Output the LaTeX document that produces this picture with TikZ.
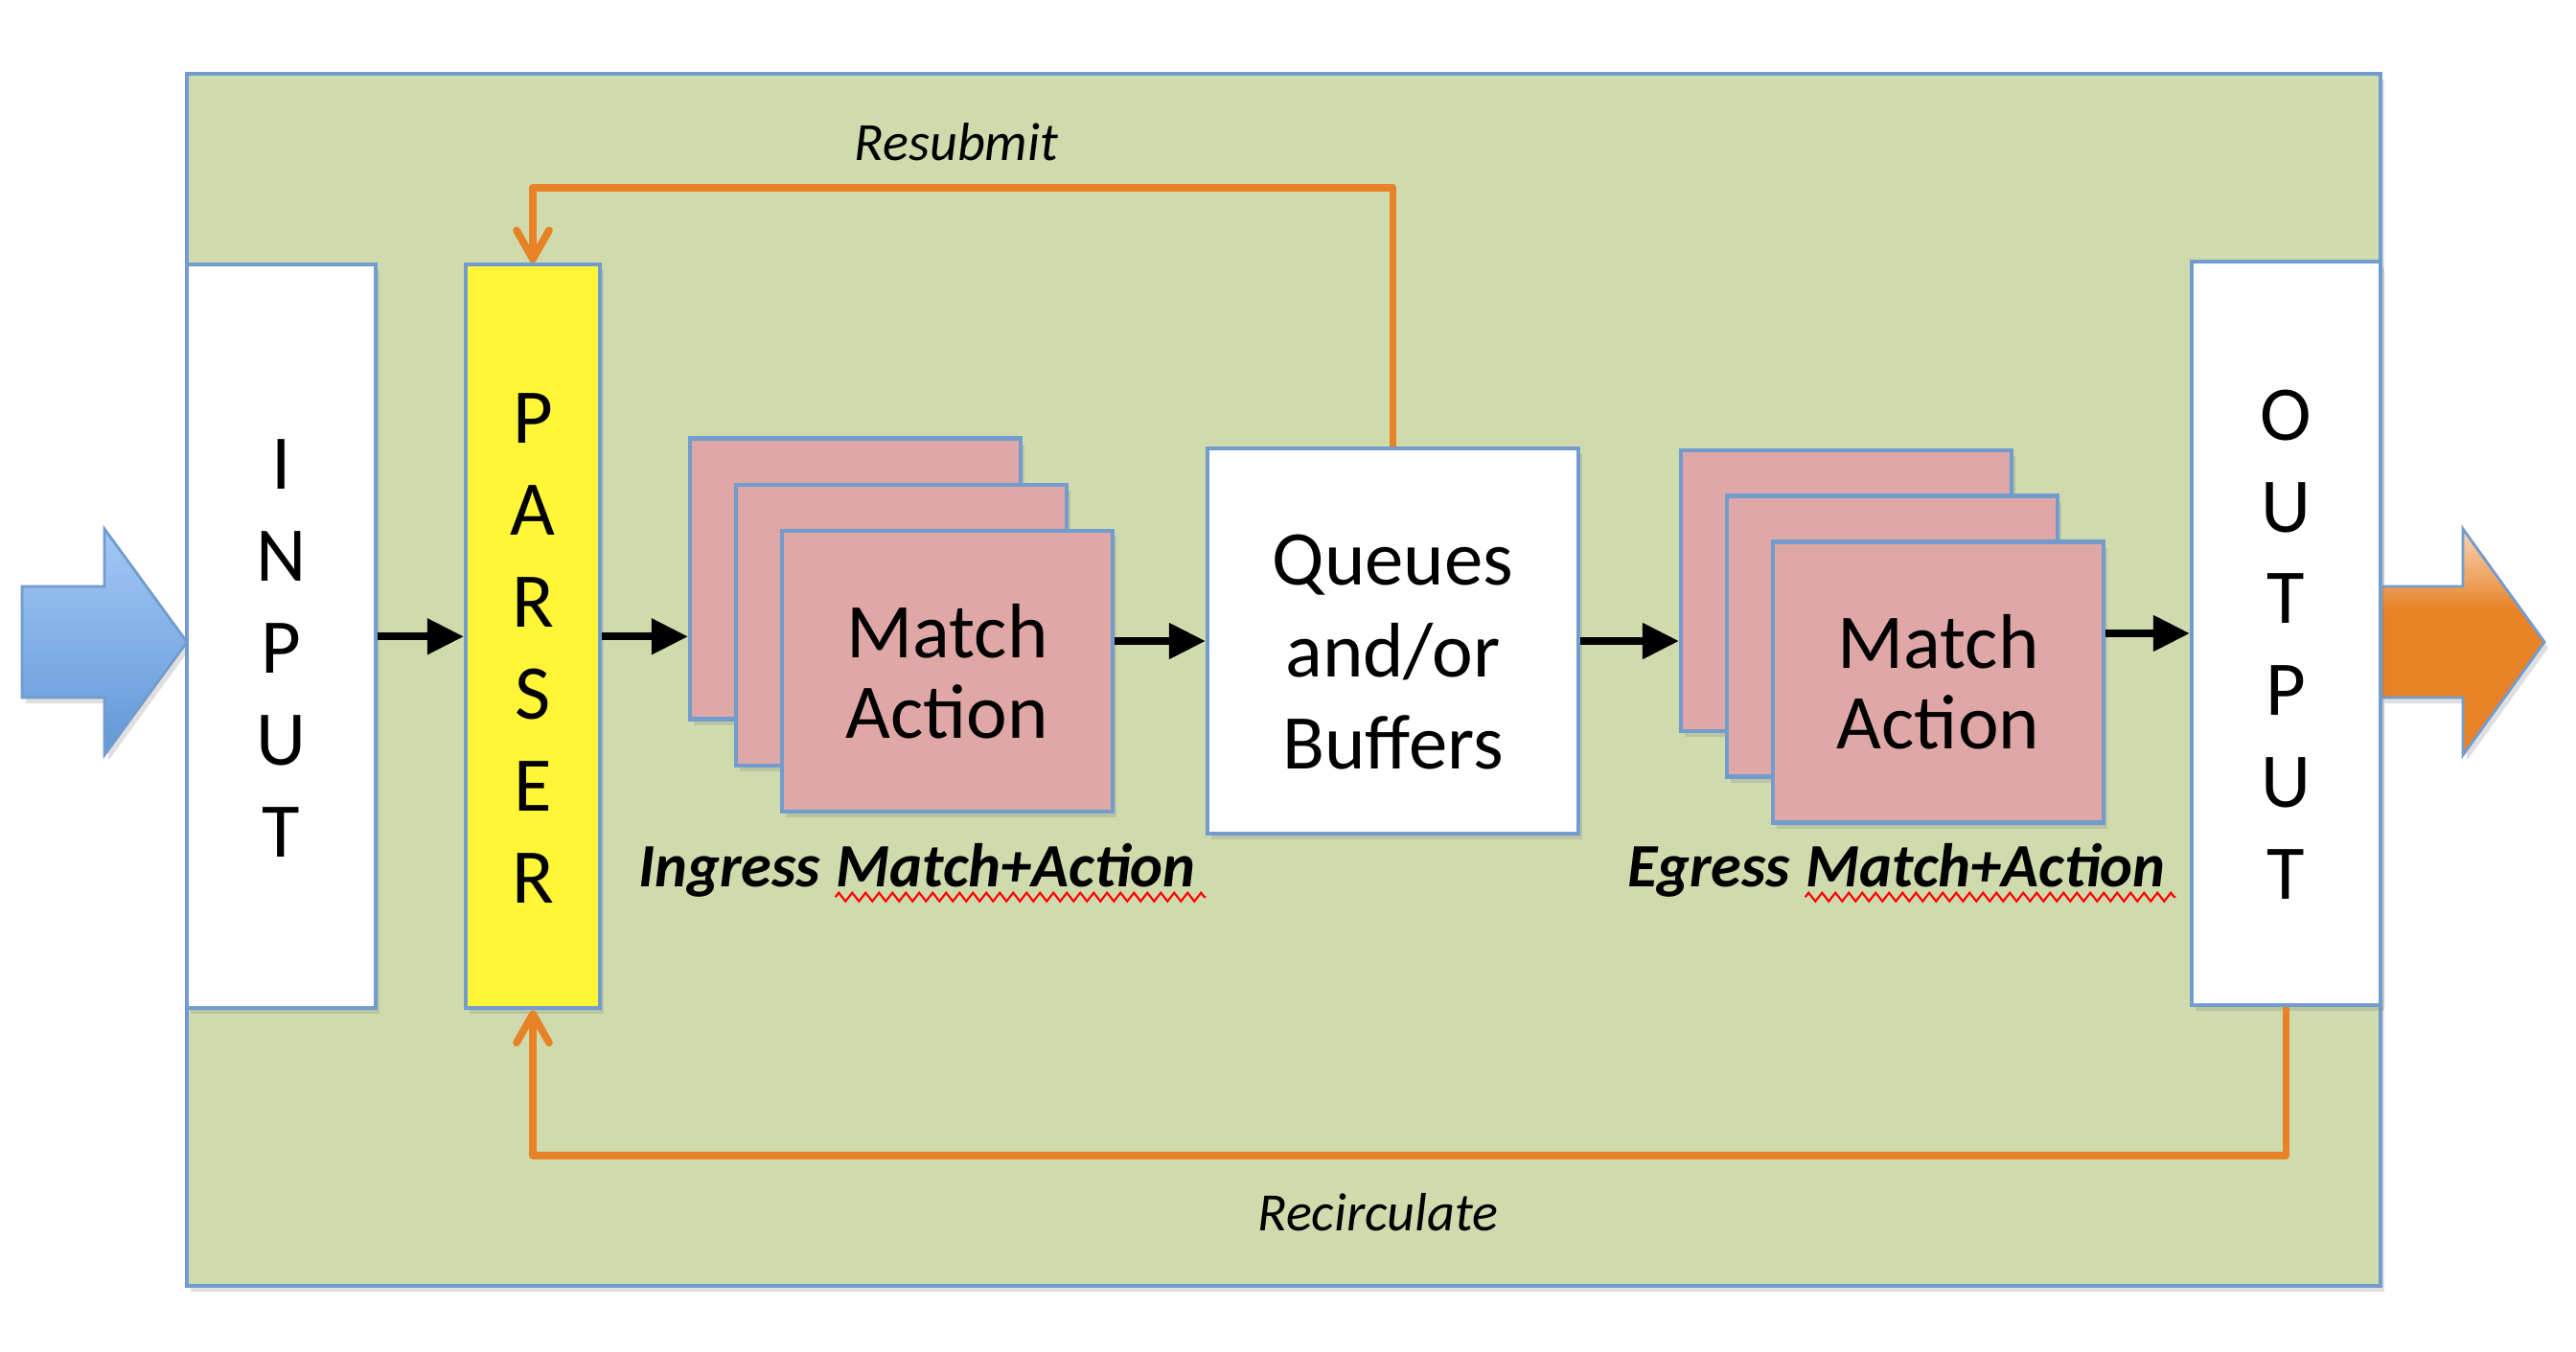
\documentclass[tikz,border=0pt]{standalone}
\usepackage{fontspec}
\setmainfont{Carlito}
\usepackage{tikz}
\usetikzlibrary{arrows.meta,shadows,decorations.pathmorphing,positioning,calc}
\definecolor{chipgreen}{RGB}{207,219,172}
\definecolor{edgeblue}{RGB}{114,156,206}
\definecolor{tablepink}{RGB}{223,167,166}
\definecolor{parseyellow}{RGB}{255,246,56}
\definecolor{fborange}{RGB}{232,130,38}
\definecolor{palefborange}{RGB}{248,214,186}
\pgfdeclareverticalshading{outshade}{100bp}{color(0bp)=(fborange); color(25bp)=(fborange);
  color(57bp)=(fborange); color(75bp)=(palefborange); color(100bp)=(palefborange)}
\newcommand{\toplow}{\rule{0pt}{21.6pt}}
\tikzset{
  blockshadow/.style={drop shadow={shadow xshift=0.04cm,shadow yshift=-0.06cm,opacity=0.25}},
  box/.style={draw=edgeblue,line width=1.2pt,fill=white,blockshadow,inner sep=0pt,align=center,
    font=\fontsize{23}{27.3}\selectfont},
  matable/.style={box,fill=tablepink,minimum width=3.45cm,minimum height=2.93cm,
    font=\fontsize{23}{24}\selectfont},
  flow/.style={line width=2.2pt,-{Triangle[length=0.38cm,width=0.36cm]}},
  feedback/.style={draw=fborange,line width=2.2pt,line join=round,
    -{Straight Barb[length=0.3cm,width=0.34cm,round]}},
  looplabel/.style={font=\fontsize{16}{19}\selectfont\itshape},
  stagelabel/.style={inner sep=0pt,font=\fontsize{18.3}{20}\selectfont\bfseries\itshape},
  squiggle/.style={draw=red,line width=0.6pt,decorate,decoration={zigzag,amplitude=0.045cm,segment length=0.14cm}}
}

\begin{document}
\begin{tikzpicture}
\useasboundingbox (0,0) rectangle (26.88,14.10);
% switch body
\path[draw=edgeblue,fill=chipgreen,line width=1.2pt,blockshadow] (1.95,0.68) rectangle (24.84,13.33);
% packet in / out
\path[draw=edgeblue,line width=0.8pt,top color={rgb,255:red,162;green,200;blue,245},bottom color={rgb,255:red,98;green,152;blue,214},blockshadow]
  (0.23,7.98) -- (1.09,7.98) -- (1.09,8.58) -- (1.95,7.40) -- (1.09,6.22) -- (1.09,6.82) -- (0.23,6.82) -- cycle;
\path[draw=edgeblue,line width=0.8pt,shading=outshade,blockshadow]
  (24.84,7.98) -- (25.70,7.98) -- (25.70,8.58) -- (26.55,7.40) -- (25.70,6.22) -- (25.70,6.82) -- (24.84,6.82) -- cycle;

\node[box,minimum width=1.97cm,minimum height=7.76cm] (input) at (2.935,7.457) {\toplow I\\N\\P\\U\\T};
\node[box,fill=parseyellow,minimum width=1.40cm,minimum height=7.76cm] (parser) at (5.56,7.457) {\toplow P\\A\\R\\S\\E\\R};

\node[matable] (ingA) at (8.925,8.06) {};
\node[matable] (ingB) at (9.405,7.575) {};
\node[matable] (ingC) at (9.885,7.095) {Match\\Action};

\node[box,minimum width=3.87cm,minimum height=4.02cm] (queue) at (14.535,7.41) {\toplow Queues\\and/or\\Buffers};

\node[matable] (egA) at (19.265,7.935) {};
\node[matable] (egB) at (19.745,7.46) {};
\node[matable] (egC) at (20.225,6.98) {Match\\Action};

\node[box,minimum width=1.97cm,minimum height=7.76cm] (output) at (23.855,7.49) {\toplow O\\U\\T\\P\\U\\T};

% main pipeline
\draw[flow] (input.east) -- (parser.west);
\draw[flow] (parser.east) -- (parser.east -| ingA.west);
\draw[flow] (ingC.east |- queue.west) -- (queue.west);
\draw[flow] (queue.east) -- (queue.east -| egA.west);
\draw[flow] (egC.east |- output.west) -- (output.west);

% loops back to the parser
\draw[feedback] (queue.north) -- ++(0,2.70) -| (parser.north);
\draw[feedback] (output.south) -- ++(0,-1.55) -| (parser.south);
\node[looplabel] (resub) at (9.98,12.62) {Resubmit};
\node[looplabel] (recirc) at (14.38,1.45) {Recirculate};

% stage names
\node[stagelabel,anchor=base] (ingma) at (10.60,4.85) {Match+Action};
\node[stagelabel,base left=0.15cm of ingma] (ingword) {Ingress};
\node[stagelabel,anchor=base] (egma) at (20.72,4.85) {Match+Action};
\node[stagelabel,base left=0.15cm of egma] (egword) {Egress};
\draw[squiggle] ($(ingma.south west)+(0,-0.1)$) -- ($(ingma.south east)+(0.1,-0.1)$);
\draw[squiggle] ($(egma.south west)+(0,-0.1)$) -- ($(egma.south east)+(0.1,-0.1)$);
\end{tikzpicture}
\end{document}
